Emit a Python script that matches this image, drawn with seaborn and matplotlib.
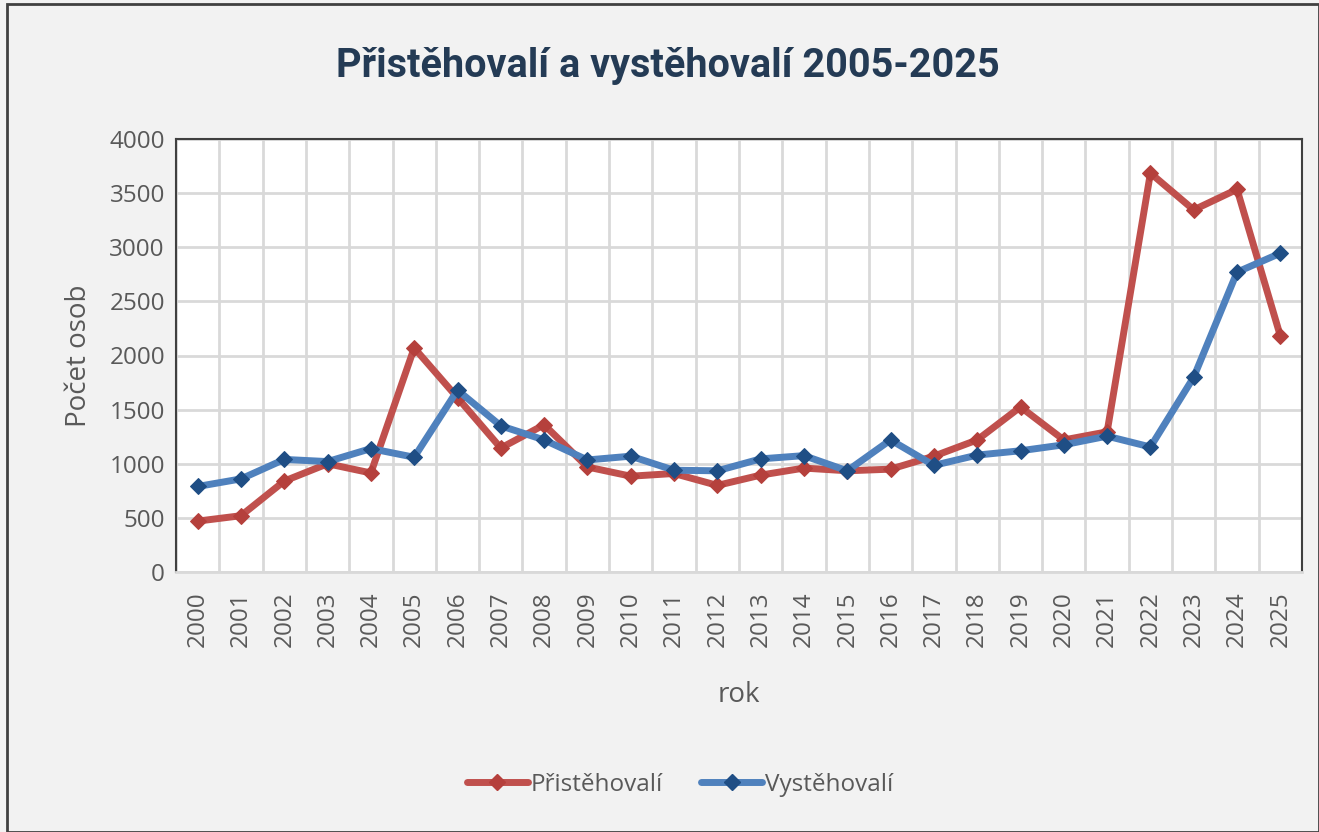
import matplotlib
matplotlib.use("Agg")
import matplotlib.pyplot as plt
import seaborn as sns
import pandas as pd
import numpy as np
from matplotlib.lines import Line2D

years = list(range(2000, 2026))
pristehovali = [470, 520, 840, 1000, 915, 2070, 1610, 1145, 1360, 970, 885, 910, 800, 895, 960, 935,
                950, 1070, 1220, 1525, 1220, 1295, 3685, 3345, 3535, 2180]
vystehovali = [790, 860, 1040, 1020, 1140, 1060, 1680, 1350, 1220, 1035, 1070, 940, 935, 1045, 1075, 935,
               1220, 985, 1080, 1120, 1175, 1255, 1155, 1800, 2770, 2945]
series_names = ["Přistěhovalí", "Vystěhovalí"]
line_colors = ["#C0504D", "#4F81BD"]
marker_colors = ["#B5403C", "#1F4E85"]

df = pd.concat([
    pd.DataFrame({"rok": years, "hodnota": pristehovali, "serie": series_names[0]}),
    pd.DataFrame({"rok": years, "hodnota": vystehovali, "serie": series_names[1]}),
])
df["pos"] = df["rok"] - years[0]

sns.set_theme(style="white")
plt.rcParams['font.family'] = ['Open Sans', 'DejaVu Sans']

fig = plt.figure(figsize=(13.19, 8.32), dpi=100, facecolor="#F2F2F2")
ax = fig.add_axes([176/1319, 1 - 572/832, (1302-176)/1319, (572-139)/832])
ax.set_facecolor("white")

sns.lineplot(data=df, x="pos", y="hodnota", hue="serie", palette=dict(zip(series_names, line_colors)),
             linewidth=5, marker="D", markersize=8, ax=ax, legend=False)
for line, mc in zip(ax.get_lines(), marker_colors):
    line.set_markerfacecolor(mc)
    line.set_markeredgecolor(mc)
    line.set_solid_joinstyle("round")
    line.set_solid_capstyle("round")

n = len(years)
ax.set_xlim(-0.5, n - 0.5)
ax.set_ylim(0, 4000)
ax.set_yticks(np.arange(0, 4001, 500))
ax.set_xticks(range(n))
ax.set_xticklabels([str(y) for y in years], rotation=90)
ax.set_xticks(np.arange(-0.5, n, 1), minor=True)
ax.grid(False)
ax.grid(which="minor", axis="x", color="#D9D9D9", linewidth=2)
ax.grid(which="major", axis="y", color="#D9D9D9", linewidth=2)
ax.set_axisbelow(True)
ax.tick_params(axis="both", which="both", length=0, labelsize=17.5, colors="#595959", pad=8)
ax.tick_params(axis="x", pad=14)

for side in ["left", "top", "right"]:
    ax.spines[side].set_color("#404040")
    ax.spines[side].set_linewidth(1.5)
ax.spines["bottom"].set_color("#D9D9D9")
ax.spines["bottom"].set_linewidth(2)

ax.set_xlabel("rok", fontsize=20, color="#595959", labelpad=24)
ax.set_ylabel("Počet osob", fontsize=20, color="#595959", labelpad=12)

fig.text(668/1319, 1 - 66/832, "Přistěhovalí a vystěhovalí 2005-2025", ha="center", va="center",
         fontsize=28.5, fontweight="bold", color="#243B55", family=["Roboto", "DejaVu Sans"])

handles = [Line2D([], [], color=lc, lw=5, marker="D", markersize=8, markerfacecolor=mc, markeredgecolor=mc,
                  solid_capstyle="round") for lc, mc in zip(line_colors, marker_colors)]
fig.legend(handles, series_names, loc="center", bbox_to_anchor=(680/1319, 1 - 785/832), ncol=2,
           frameon=False, fontsize=17.5, labelcolor="#595959", handlelength=2.5, handletextpad=0.1,
           columnspacing=1.6)

border = plt.Rectangle((0.005, 0), 0.995, 0.995, transform=fig.transFigure, fill=False,
                       edgecolor="#404040", linewidth=2)
fig.add_artist(border)

fig.savefig("out.png", dpi=100, facecolor=fig.get_facecolor())
